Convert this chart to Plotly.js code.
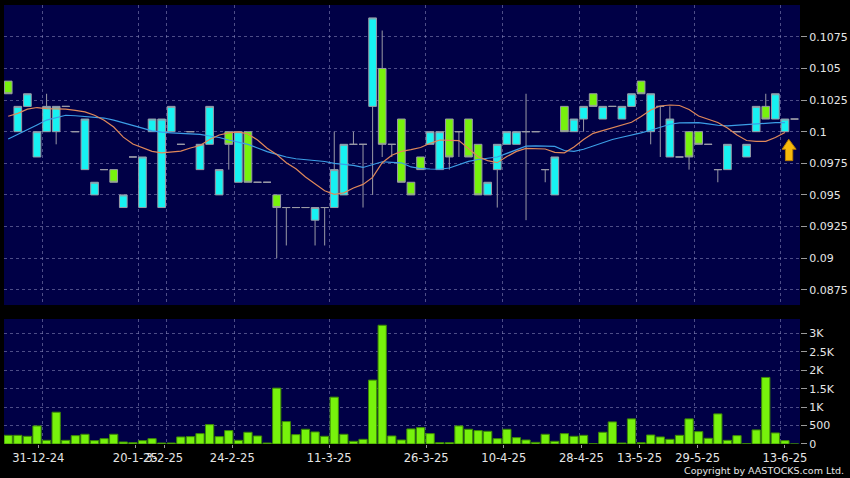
<!DOCTYPE html>
<html>
<head>
<meta charset="utf-8">
<script src="https://cdn.plot.ly/plotly-3.0.1.min.js"></script>
<style>html,body{margin:0;padding:0;background:#000;}#chart{width:850px;height:478px;}</style>
</head>
<body>
<div id="chart"></div>
<script>
// candle slot index (one per trading session shown)
const slots = [0,1,2,3,4,5,6,7,8,9,10,11,12,13,14,15,16,17,18,19,20,21,22,23,24,25,26,27,28,29,
30,31,32,33,34,35,36,37,38,39,40,41,42,43,44,45,46,47,48,49,50,51,52,53,54,55,56,57,58,59,
60,61,62,63,64,65,66,67,68,69,70,71,72,73,74,75,76,77,78,79,80,81,82];

const open = [0.104,0.100,0.102,0.098,0.100,0.100,0.102,0.100,0.097,0.095,
0.097,0.097,0.094,0.098,0.094,0.100,0.094,0.100,0.099,0.100,
0.097,0.099,0.095,0.100,0.096,0.100,0.096,0.096,0.095,0.094,
0.094,0.094,0.093,0.094,0.094,0.095,0.099,0.099,0.102,0.105,
0.099,0.101,0.096,0.098,0.099,0.097,0.101,0.100,0.101,0.099,
0.095,0.097,0.099,0.099,0.100,0.100,0.097,0.095,0.102,0.100,
0.101,0.103,0.101,0.102,0.101,0.102,0.104,0.100,0.102,0.098,
0.098,0.100,0.100,0.099,0.097,0.097,0.100,0.098,0.100,0.102,
0.101,0.100,0.101];
const high = [0.104,0.102,0.103,0.100,0.103,0.102,0.102,0.100,0.101,0.096,
0.097,0.097,0.095,0.098,0.098,0.101,0.101,0.102,0.099,0.100,
0.099,0.102,0.097,0.100,0.100,0.100,0.096,0.096,0.095,0.094,
0.094,0.094,0.094,0.094,0.100,0.099,0.100,0.099,0.109,0.108,
0.099,0.101,0.096,0.098,0.100,0.100,0.101,0.100,0.101,0.099,
0.096,0.099,0.100,0.100,0.103,0.100,0.097,0.098,0.102,0.101,
0.102,0.103,0.102,0.102,0.102,0.103,0.104,0.103,0.102,0.102,
0.098,0.100,0.100,0.099,0.097,0.099,0.100,0.099,0.102,0.103,
0.103,0.101,0.101];
const low = [0.103,0.100,0.102,0.098,0.100,0.099,0.102,0.100,0.097,0.095,
0.097,0.096,0.094,0.098,0.094,0.100,0.094,0.100,0.099,0.100,
0.097,0.099,0.095,0.097,0.096,0.096,0.096,0.096,0.090,0.091,
0.094,0.094,0.091,0.091,0.094,0.095,0.099,0.094,0.095,0.098,
0.098,0.096,0.095,0.097,0.099,0.097,0.097,0.098,0.098,0.095,
0.095,0.094,0.099,0.099,0.093,0.100,0.096,0.095,0.100,0.100,
0.100,0.102,0.101,0.102,0.101,0.102,0.103,0.099,0.098,0.098,
0.098,0.097,0.099,0.099,0.096,0.097,0.100,0.098,0.100,0.101,
0.101,0.100,0.101];
const close = [0.103,0.102,0.103,0.100,0.102,0.102,0.102,0.100,0.101,0.096,
0.097,0.096,0.095,0.098,0.098,0.101,0.101,0.102,0.099,0.100,
0.099,0.102,0.097,0.099,0.100,0.096,0.096,0.096,0.094,0.094,
0.094,0.094,0.094,0.094,0.097,0.099,0.099,0.099,0.109,0.099,
0.099,0.096,0.095,0.097,0.100,0.100,0.098,0.100,0.098,0.095,
0.096,0.099,0.100,0.100,0.100,0.100,0.097,0.098,0.100,0.101,
0.102,0.102,0.102,0.102,0.102,0.103,0.103,0.103,0.102,0.101,
0.098,0.098,0.099,0.099,0.097,0.099,0.100,0.099,0.102,0.101,
0.103,0.101,0.101];

const volume = [236,236,209,491,100,864,100,227,264,91,
145,264,55,36,91,145,27,27,191,200,
282,527,200,364,100,318,218,27,1518,609,
255,400,327,209,1273,264,73,127,1736,3227,
218,109,409,445,282,36,36,491,400,364,
345,145,400,173,109,45,264,73,282,209,
236,8,318,600,27,682,36,245,191,127,
236,682,336,155,818,100,227,8,382,1809,
300,91,0];

// moving averages (orange = short, blue = long)
const maShort = [0.10122,0.10145,0.10178,0.10191,0.10182,0.10182,0.10179,0.10169,0.10157,0.10130,
0.10090,0.10037,0.09957,0.09903,0.09873,0.09844,0.09832,0.09841,0.09846,0.09871,
0.09891,0.09938,0.09974,0.09991,0.09998,0.09982,0.09934,0.09869,0.09820,0.09755,
0.09707,0.09642,0.09585,0.09533,0.09504,0.09516,0.09555,0.09583,0.09638,0.09755,
0.09814,0.09844,0.09858,0.09875,0.09908,0.09934,0.09932,0.09930,0.09867,0.09802,
0.09771,0.09755,0.09803,0.09844,0.09868,0.09867,0.09863,0.09836,0.09833,0.09879,
0.09938,0.09987,0.10009,0.10036,0.10053,0.10074,0.10120,0.10171,0.10203,0.10211,
0.10207,0.10175,0.10124,0.10096,0.10073,0.10029,0.09974,0.09930,0.09924,0.09924,
0.09954,0.09994];
const maLong = [0.09942,0.09978,0.10013,0.10053,0.10092,0.10112,0.10130,0.10126,0.10120,0.10116,
0.10108,0.10092,0.10069,0.10045,0.10028,0.10007,0.09996,0.09991,0.09988,0.09986,
0.09978,0.09966,0.09954,0.09934,0.09919,0.09899,0.09871,0.09842,0.09821,0.09800,
0.09786,0.09779,0.09773,0.09764,0.09750,0.09742,0.09733,0.09717,0.09737,0.09762,
0.09758,0.09754,0.09721,0.09709,0.09705,0.09703,0.09713,0.09737,0.09765,0.09780,
0.09792,0.09800,0.09828,0.09859,0.09885,0.09887,0.09887,0.09883,0.09851,0.09844,
0.09861,0.09887,0.09915,0.09938,0.09956,0.09972,0.09990,0.10011,0.10037,0.10059,
0.10069,0.10071,0.10071,0.10062,0.10051,0.10046,0.10051,0.10061,0.10066,0.10071,
0.10071,0.10071];

// date tick labels and the slot each one sits after
const dateLabels = ['31-12-24','20-1-25','3-2-25','24-2-25','11-3-25','26-3-25','10-4-25','28-4-25','13-5-25','29-5-25','13-6-25'];
const dateSlots = [3,13,16,23,33,43,51,59,65,71,80];

const priceTicks = [0.0875,0.09,0.0925,0.095,0.0975,0.1,0.1025,0.105,0.1075];
const priceTickText = ['0.0875','0.09','0.0925','0.095','0.0975','0.1','0.1025','0.105','0.1075'];
const volTicks = [0,500,1000,1500,2000,2500,3000];
const volTickText = ['0','500','1K','1.5K','2K','2.5K','3K'];

const CYAN = '#17f2f2', LIME = '#77f20c', WICK = '#9a9aa6';
const GRID = 'rgba(140,140,190,0.55)';
const FONT = 'DejaVu Sans';

const maSlots = slots.slice(0, maShort.length);
const gridPos = dateSlots.map(v => v + 0.55);
const labelPos = dateSlots.map(v => v + 0.5);

const traces = [
  {type:'candlestick', x:slots, open:open, high:high, low:low, close:close,
   xaxis:'x', yaxis:'y', whiskerwidth:0, hoverinfo:'skip',
   increasing:{fillcolor:CYAN, line:{color:WICK, width:1}},
   decreasing:{fillcolor:LIME, line:{color:WICK, width:1}}, showlegend:false},
  {type:'scatter', mode:'lines', x:maSlots, y:maLong, xaxis:'x', yaxis:'y',
   line:{color:'#3c9ee6', width:1.2}, hoverinfo:'skip', showlegend:false},
  {type:'scatter', mode:'lines', x:maSlots, y:maShort, xaxis:'x', yaxis:'y',
   line:{color:'#e0885a', width:1.2}, hoverinfo:'skip', showlegend:false},
  {type:'bar', x:slots, y:volume, xaxis:'x2', yaxis:'y2',
   marker:{color:LIME, line:{color:'#3d8a06', width:1}}, hoverinfo:'skip', showlegend:false},
  {type:'scatter', mode:'markers', x:[], y:[], xaxis:'x3', yaxis:'y2', showlegend:false}
];

const axisFont = {family:FONT, size:11, color:'#e6e6e6'};
const lastIdx = maShort.length - 1;

const layout = {
  width:850, height:478,
  paper_bgcolor:'#000000', plot_bgcolor:'#000046',
  margin:{l:4, r:50, t:5, b:34},
  showlegend:false, bargap:0.14, boxgap:0.2, boxgroupgap:0,
  font:{family:FONT, color:'#e6e6e6'},
  xaxis:{domain:[0,1], anchor:'y', range:[-0.44, 82.57], tickmode:'array', tickvals:gridPos,
    showticklabels:false, ticks:'', showgrid:true, gridcolor:GRID, griddash:'3px,3px', gridwidth:1,
    zeroline:false, showline:false, rangeslider:{visible:false}, fixedrange:true},
  yaxis:{domain:[0.3166,1], anchor:'x', side:'right', range:[0.08629,0.11002], tickmode:'array',
    tickvals:priceTicks, ticktext:priceTickText, ticks:'outside', ticklen:6, tickcolor:'#9a9a9a',
    tickfont:axisFont, showgrid:true, gridcolor:GRID, griddash:'3px,3px', zeroline:false, showline:false},
  xaxis2:{domain:[0,1], anchor:'y2', matches:'x', range:[-0.44, 82.57], tickmode:'array', tickvals:gridPos,
    showticklabels:false, ticks:'', showgrid:true, gridcolor:GRID, griddash:'3px,3px',
    zeroline:false, showline:false},
  yaxis2:{domain:[0,0.2847], anchor:'x2', side:'right', range:[0,3396], tickmode:'array',
    tickvals:volTicks, ticktext:volTickText, ticks:'outside', ticklen:6, tickcolor:'#9a9a9a',
    tickfont:axisFont, showgrid:true, gridcolor:GRID, griddash:'3px,3px', zeroline:false, showline:false},
  xaxis3:{overlaying:'x2', anchor:'y2', side:'bottom', range:[-0.04, 82.05], tickmode:'array',
    tickvals:labelPos, ticktext:dateLabels, tickangle:0, ticks:'outside', ticklen:3, tickcolor:'#9a9a9a',
    tickfont:{family:FONT, size:11.5, color:'#e6e6e6'}, showgrid:false, zeroline:false, showline:false},
  shapes:[
    {type:'path', xref:'x', yref:'y', xsizemode:'pixel', ysizemode:'pixel',
     xanchor:slots[lastIdx], yanchor:maShort[lastIdx],
     path:'M 3.8 -6.8 L 11.2 -16.8 L 7.8 -16.8 L 7.8 -28.2 L 0.5 -28.2 L 0.5 -16.8 L -2.8 -16.8 Z',
     fillcolor:'#f6b90c', line:{color:'#b87d00', width:1}}
  ],
  annotations:[
    {text:'Copyright by AASTOCKS.com Ltd.', xref:'paper', yref:'paper', x:1.058, y:-0.0615,
     xanchor:'right', yanchor:'middle', showarrow:false,
     font:{family:FONT, size:9.5, color:'#e6e6e6'}}
  ]
};

Plotly.newPlot('chart', traces, layout, {staticPlot:true, displayModeBar:false});
</script>
</body>
</html>
